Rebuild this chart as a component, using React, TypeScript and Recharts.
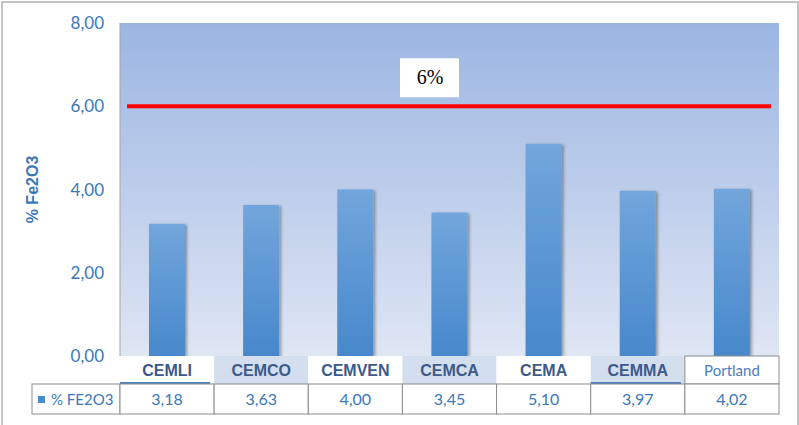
import React from 'react';
import { BarChart, Bar, XAxis, YAxis, CartesianGrid, ReferenceLine, Label } from 'recharts';

const categories = ['CEMLI', 'CEMCO', 'CEMVEN', 'CEMCA', 'CEMA', 'CEMMA', 'Portland'];
const fe2o3 = [3.18, 3.63, 4.0, 3.45, 5.1, 3.97, 4.02];
const yTicks = [0, 2, 4, 6, 8];
const limitValue = 6;
const limitLabel = '6%';
const seriesName = '% FE2O3';
const axisTitle = '% Fe2O3';

const chartData = categories.map((name, i) => ({ name, value: fe2o3[i] }));

// layout
const W = 799;
const H = 425;
const PLOT_LEFT = 120;
const PLOT_RIGHT = 779;
const PLOT_TOP = 23;
const PLOT_BOTTOM = 356;
const BAND = (PLOT_RIGHT - PLOT_LEFT) / categories.length;
const ROW1 = 28;
const ROW2 = 30;
const cellKinds = ['plainLine', 'shaded', 'plain', 'shaded', 'plain', 'shadedLine', 'boxed'];

const fmt = (v: number) => v.toFixed(2).replace('.', ',');
const numFont = 'Lato, "Open Sans", sans-serif';

const CategoryTick = (props: any) => {
  const { x, payload } = props;
  const i = payload.index;
  const left = x - BAND / 2;
  const kind = cellKinds[i];
  const top = PLOT_BOTTOM;
  const shaded = kind.startsWith('shaded');
  return (
    <g>
      {i === 0 && (
        <g>
          <rect x={32} y={top + ROW1} width={PLOT_LEFT - 32} height={ROW2} fill="#fff" stroke="#8c8c8c" strokeWidth={1} />
          <rect x={38} y={top + ROW1 + 12} width={7} height={7} fill="#4a8bcd" />
          <text x={51} y={top + ROW1 + 21} fontSize={15} fill="#3a78b8" fontFamily={numFont}>
            {seriesName}
          </text>
        </g>
      )}
      <rect x={left} y={top} width={BAND} height={ROW1} fill={shaded ? '#d3deef' : '#ffffff'} stroke={kind === 'boxed' ? '#8c8c8c' : 'none'} />
      {kind.endsWith('Line') && <rect x={left} y={top + ROW1 - 2} width={BAND - 4} height={2} fill="#4f81bd" />}
      <text
        x={x}
        y={top + 20}
        textAnchor="middle"
        fontSize={kind === 'boxed' ? 15 : 16}
        fontWeight={kind === 'boxed' ? 400 : 700}
        fill={kind === 'boxed' ? '#4a7dbf' : '#3d5a8a'}
        fontFamily={kind === 'boxed' ? numFont : 'Arial, "Liberation Sans", sans-serif'}
      >
        {payload.value}
      </text>
      <rect x={left} y={top + ROW1} width={BAND} height={ROW2} fill="#fff" stroke="#8c8c8c" strokeWidth={1} />
      <text x={x} y={top + ROW1 + 21} textAnchor="middle" fontSize={16} fill="#3a78b8" fontFamily={numFont}>
        {fmt(fe2o3[i])}
      </text>
    </g>
  );
};

const LimitLine = (props: any) => {
  const { x1, x2, y1 } = props;
  return <line x1={x1 + 7} x2={x2 - 8} y1={y1} y2={y1} stroke="#ff0000" strokeWidth={4} />;
};

const LimitLabel = (props: any) => {
  const { viewBox } = props;
  const cx = viewBox.x + 310;
  const cy = viewBox.y - 29;
  return (
    <g>
      <rect x={cx - 30} y={cy - 19} width={59} height={39} fill="#ffffff" />
      <text x={cx} y={cy + 7} textAnchor="middle" fontSize={20} fill="#000" fontFamily='"Liberation Serif", "DejaVu Serif", serif'>
        {limitLabel}
      </text>
    </g>
  );
};

export default function App() {
  return (
    <div style={{ position: 'relative', width: W, height: H, background: '#fff', overflow: 'hidden' }}>
      <style>{'body{margin:0}'}</style>
      <svg width={0} height={0} style={{ position: 'absolute' }}>
        <defs>
          <linearGradient id="plotBg" x1="0" y1="0" x2="0" y2="1">
            <stop offset="0%" stopColor="#9bb5e2" />
            <stop offset="100%" stopColor="#dfe6f4" />
          </linearGradient>
          <linearGradient id="barFill" x1="0" y1="0" x2="0" y2="1">
            <stop offset="0%" stopColor="#72a6dc" />
            <stop offset="100%" stopColor="#4788cb" />
          </linearGradient>
          <filter id="barShadow" x="-20%" y="-5%" width="150%" height="110%">
            <feDropShadow dx="2" dy="1" stdDeviation="1.5" floodColor="#000" floodOpacity="0.35" />
          </filter>
        </defs>
      </svg>
      <BarChart
        width={W}
        height={H}
        data={chartData}
        margin={{ top: PLOT_TOP, right: W - PLOT_RIGHT, bottom: H - PLOT_BOTTOM - ROW1 - ROW2 - 11, left: 0 }}
        barCategoryGap={0}
      >
        <CartesianGrid horizontal={false} vertical={false} fill="url(#plotBg)" stroke="none" />
        <XAxis
          dataKey="name"
          axisLine={false}
          tickLine={false}
          interval={0}
          height={ROW1 + ROW2 + 11}
          tick={<CategoryTick />}
        />
        <YAxis
          domain={[0, 8]}
          ticks={yTicks}
          width={PLOT_LEFT}
          axisLine={{ stroke: '#a6a6a6', strokeWidth: 1 }}
          tickLine={false}
          tickMargin={10}
          tickFormatter={fmt}
          tick={{ fontSize: 17, fill: '#3a78b8', fontFamily: numFont }}
        >
          <Label
            value={axisTitle}
            angle={-90}
            position="insideLeft"
            offset={32}
            style={{ fontSize: 16, fontWeight: 700, fill: '#3a78b8', fontFamily: 'Arial, "Liberation Sans", sans-serif', textAnchor: 'middle' }}
          />
        </YAxis>
        <Bar dataKey="value" barSize={36} fill="url(#barFill)" filter="url(#barShadow)" isAnimationActive={false} />
        <ReferenceLine y={limitValue} shape={<LimitLine />} label={<LimitLabel />} ifOverflow="extendDomain" />
      </BarChart>
      <div
        style={{
          position: 'absolute',
          left: 1,
          top: 1,
          width: 794,
          height: 440,
          border: '2px solid #c4c4c4',
          pointerEvents: 'none',
        }}
      />
    </div>
  );
}
